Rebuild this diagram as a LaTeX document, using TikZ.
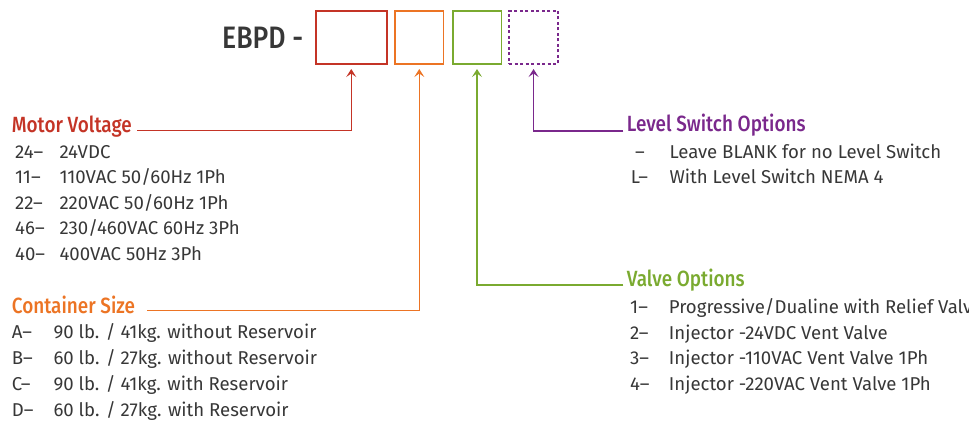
\documentclass[tikz,border=0pt]{standalone}
\usepackage{fontspec}
\setmainfont{Fira Sans}[BoldFont={Fira Sans Medium}, BoldFeatures={FakeStretch=0.86}]
\usetikzlibrary{arrows.meta}
\definecolor{cred}{RGB}{196,52,38}
\definecolor{corange}{RGB}{236,116,36}
\definecolor{cgreen}{RGB}{122,170,48}
\definecolor{cpurple}{RGB}{122,40,140}
\definecolor{ctext}{RGB}{55,55,55}
\tikzset{
  codebox/.style={draw, line width=1.5pt, minimum width=#1, minimum height=53pt, inner sep=0pt, anchor=north west},
  title/.style={anchor=base west, inner sep=0pt, font=\bfseries\fontsize{22}{26}\selectfont},
  item/.style={anchor=base west, inner sep=0pt, text=ctext, font=\fontsize{18.6}{22}\selectfont},
  conn/.style={line width=1.5pt, -{Stealth[length=8pt,width=10pt,inset=3.5pt]}, shorten >=4.5pt},
}
\begin{document}
\begin{tikzpicture}[x=1pt,y=-1pt]
\useasboundingbox (0,0) rectangle (969,423);
% header
\node[anchor=base west, inner sep=0pt, text=ctext, font=\bfseries\fontsize{31}{36}\selectfont] (ebpd) at (222,48) {EBPD -};
\node[codebox=71pt, cred] (rbox) at (315,10) {};
\node[codebox=48.5pt, corange] (obox) at (394.3,10) {};
\node[codebox=48.5pt, cgreen] (gbox) at (452,10) {};
\node[codebox=49pt, cpurple, dash pattern=on 3pt off 2.5pt] (pbox) at (508.3,10) {};
% Motor voltage
\node[title, text=cred] (mvt) at (11.7,132.7) {Motor Voltage};
\node[item] (mv1c) at (15,158.3) {24--};   \node[item] (mv1) at (59.3,158.3) {24VDC};
\node[item] (mv2c) at (15,183.8) {11--};   \node[item] (mv2) at (59.3,183.8) {110VAC 50/60Hz 1Ph};
\node[item] (mv3c) at (15,209.3) {22--};   \node[item] (mv3) at (59.3,209.3) {220VAC 50/60Hz 1Ph};
\node[item] (mv4c) at (15,234.8) {46--};   \node[item] (mv4) at (59.3,234.8) {230/460VAC 60Hz 3Ph};
\node[item] (mv5c) at (15,260.3) {40--};   \node[item] (mv5) at (59.3,260.3) {400VAC 50Hz 3Ph};
% Container size
\node[title, text=corange] (cst) at (11.7,313.3) {Container Size};
\node[item] (cs1c) at (11.7,338.3) {A--};  \node[item] (cs1) at (53.3,338.3) {90 lb. / 41kg. without Reservoir};
\node[item] (cs2c) at (11.7,364) {B--};    \node[item] (cs2) at (53.3,364) {60 lb. / 27kg. without Reservoir};
\node[item] (cs3c) at (11.7,390) {C--};    \node[item] (cs3) at (53.3,390) {90 lb. / 41kg. with Reservoir};
\node[item] (cs4c) at (11.7,416) {D--};    \node[item] (cs4) at (53.3,416) {60 lb. / 27kg. with Reservoir};
% Level switch
\node[title, text=cpurple] (lst) at (626.7,131.7) {Level Switch Options};
\node[item] (ls1c) at (635,158.3) {--};    \node[item] (ls1) at (669.3,158.3) {Leave BLANK for no Level Switch};
\node[item] (ls2c) at (630.7,183.3) {L--}; \node[item] (ls2) at (669.3,183.3) {With Level Switch NEMA 4};
% Valve options
\node[title, text=cgreen] (vot) at (626.7,286.7) {Valve Options};
\node[item] (vo1c) at (630,313.3) {1--};   \node[item] (vo1) at (668.7,313.3) {Progressive/Dualine with Relief Valve};
\node[item] (vo2c) at (630,339) {2--};     \node[item] (vo2) at (668.7,339) {Injector -24VDC Vent Valve};
\node[item] (vo3c) at (630,364.5) {3--};   \node[item] (vo3) at (668.7,364.5) {Injector -110VAC Vent Valve 1Ph};
\node[item] (vo4c) at (630,390) {4--};     \node[item] (vo4) at (668.7,390) {Injector -220VAC Vent Valve 1Ph};
% connectors
\draw[conn, cred] ([xshift=5pt,yshift=-0.5pt]mvt.mid east) -| (rbox.south);
\draw[conn, corange] ([xshift=11.7pt]cst.mid east) -| (obox.south);
\draw[conn, cgreen] ([xshift=-3.4pt,yshift=-1pt]vot.mid west) -| (gbox.south);
\draw[conn, cpurple] ([xshift=-3.4pt,yshift=-2pt]lst.mid west) -| (pbox.south);
\end{tikzpicture}
\end{document}
